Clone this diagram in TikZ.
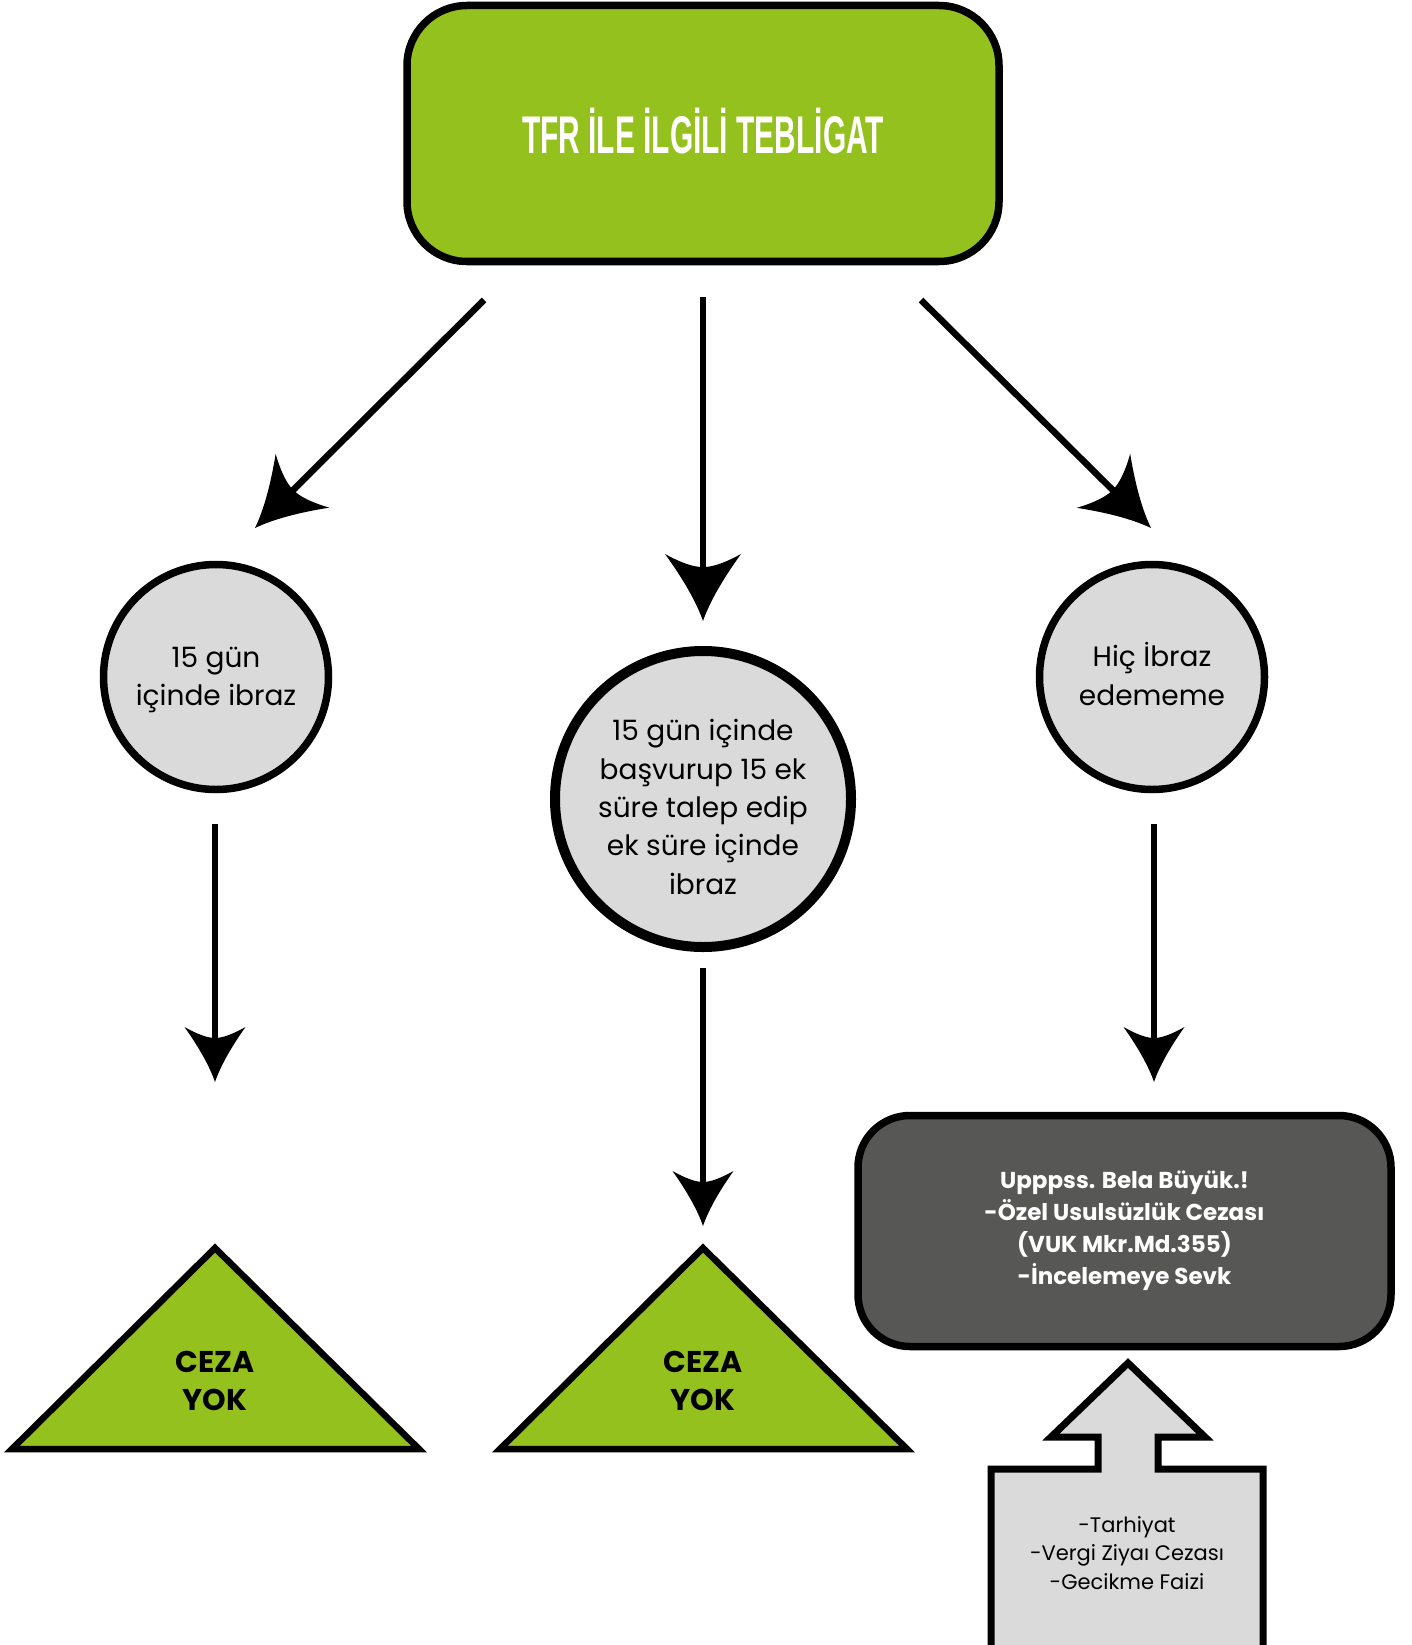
\documentclass[tikz,border=0pt]{standalone}
\usepackage{fontspec}
\usepackage{graphicx}
\setmainfont{Poppins}
\newfontfamily\titlefont{Liberation Sans}
\usetikzlibrary{arrows.meta}
\definecolor{tfrgreen}{HTML}{95C11F}
\definecolor{lightgr}{HTML}{DADADA}
\definecolor{darkgr}{HTML}{575756}
\newdimen\crvtmp
\pgfdeclarearrow{
  name = Curvy,
  defaults = { length = 55pt, width = 60pt, inset = 11pt },
  parameters = { \the\pgfarrowlength,\the\pgfarrowwidth,\the\pgfarrowinset },
  setup code = {
    \pgfarrowssettipend{0pt}
    \crvtmp=\pgfarrowinset
    \advance\crvtmp by -\pgfarrowlength
    \advance\crvtmp by 3pt
    \pgfarrowssetlineend{\crvtmp}
    \pgfarrowssetbackend{-\pgfarrowlength}
    \pgfarrowssavethe\pgfarrowlength
    \pgfarrowssavethe\pgfarrowwidth
    \pgfarrowssavethe\pgfarrowinset
  },
  drawing code = {
    \pgfpathmoveto{\pgfpointorigin}
    \pgfpathquadraticcurveto{\pgfpoint{-0.42*\pgfarrowlength}{0.13*\pgfarrowwidth}}
      {\pgfpoint{-\pgfarrowlength}{0.5*\pgfarrowwidth}}
    \pgfpathquadraticcurveto{\pgfpoint{-0.8*\pgfarrowlength}{0.18*\pgfarrowwidth}}
      {\pgfpoint{-\pgfarrowlength+\pgfarrowinset}{0pt}}
    \pgfpathquadraticcurveto{\pgfpoint{-0.8*\pgfarrowlength}{-0.18*\pgfarrowwidth}}
      {\pgfpoint{-\pgfarrowlength}{-0.5*\pgfarrowwidth}}
    \pgfpathquadraticcurveto{\pgfpoint{-0.42*\pgfarrowlength}{-0.13*\pgfarrowwidth}}
      {\pgfpointorigin}
    \pgfpathclose
    \pgfusepathqfill
  }
}
\begin{document}
\begin{tikzpicture}[x=1pt,y=-1pt,
  bigconn/.style={line width=6.5pt,-{Curvy[length=67pt,width=76pt,inset=13pt]}},
  conn/.style={line width=6.5pt,-{Curvy[length=55pt,width=61pt,inset=11pt]}},
  circ/.style={circle,draw=black,fill=lightgr,line width=7.5pt,inner sep=0pt},
  circtext/.style={align=center,font=\fontsize{28pt}{38.4pt}\selectfont},
  tri/.style={draw=black,fill=tfrgreen,line width=6.5pt,line join=miter},
  tritext/.style={align=center,font=\fontsize{30pt}{38pt}\selectfont\bfseries}]
\useasboundingbox (0,0) rectangle (1411,1645);

% top box
\node[draw=black,fill=tfrgreen,line width=7.5pt,rounded corners=60pt,
  minimum width=592pt,minimum height=256pt,inner sep=0pt] (top) at (703,133.5) {};
\node[text=white] (title) at (703,131)
  {\resizebox{362pt}{\height}{\titlefont\bfseries\fontsize{53pt}{60pt}\selectfont TFR İLE İLGİLİ TEBLİGAT}};

% circles
\node[circ,minimum size=225pt] (c1) at (216,677) {};
\node[circtext] (c1t) at (216,680) {15 gün\\içinde ibraz};
\node[circ,minimum size=296pt,line width=10pt] (c2) at (703,799) {};
\node[circtext] (c2t) at (703,807)
  {15 gün içinde\\başvurup 15 ek\\süre talep edip\\ek süre içinde\\ibraz};
\node[circ,minimum size=225pt] (c3) at (1152,677) {};
\node[circtext] (c3t) at (1152,674) {Hiç İbraz\\edememe};

% arrows from top
\coordinate (a1s) at (484,300); \coordinate (a1e) at (255,528);
\coordinate (a2s) at (703,297); \coordinate (a2e) at (703,621);
\coordinate (a3s) at (921,300); \coordinate (a3e) at (1151,528);
\draw[bigconn] (a1s) -- (a1e);
\draw[bigconn] (a2s) -- (a2e);
\draw[bigconn] (a3s) -- (a3e);

% lower arrows
\coordinate (b1s) at (215,824); \coordinate (b1e) at (215,1082);
\coordinate (b2s) at (703,968); \coordinate (b2e) at (703,1226);
\coordinate (b3s) at (1154,824); \coordinate (b3e) at (1154,1082);
\draw[conn] (b1s) -- (b1e);
\draw[conn] (b2s) -- (b2e);
\draw[conn] (b3s) -- (b3e);

% triangles
\draw[tri] (215,1248) -- (419,1449) -- (12,1449) -- cycle;
\node[tritext] (t1) at (215,1381) {CEZA\\YOK};
\draw[tri] (703,1248) -- (907,1449) -- (500,1449) -- cycle;
\node[tritext] (t2) at (703,1381) {CEZA\\YOK};

% dark box
\node[draw=black,fill=darkgr,line width=7.5pt,rounded corners=52pt,
  minimum width=533pt,minimum height=231pt,inner sep=0pt,text=white,align=center,
  font=\fontsize{23pt}{32pt}\selectfont\bfseries] (dark) at (1124.5,1231)
  {Upppss. Bela Büyük.!\\-Özel Usulsüzlük Cezası\\(VUK Mkr.Md.355)\\-İncelemeye Sevk};

% bottom up-arrow box
\draw[draw=black,fill=lightgr,line width=7pt,line join=miter]
  (1128,1363) -- (1205,1437) -- (1158,1437) -- (1158,1469) -- (1263,1469) -- (1263,1700)
  -- (991,1700) -- (991,1469) -- (1098,1469) -- (1098,1437) -- (1051,1437) -- cycle;
\node[align=center,font=\fontsize{21pt}{28.5pt}\selectfont] (extra) at (1127,1553)
  {-Tarhiyat\\-Vergi Ziyaı Cezası\\-Gecikme Faizi};
\end{tikzpicture}
\end{document}
